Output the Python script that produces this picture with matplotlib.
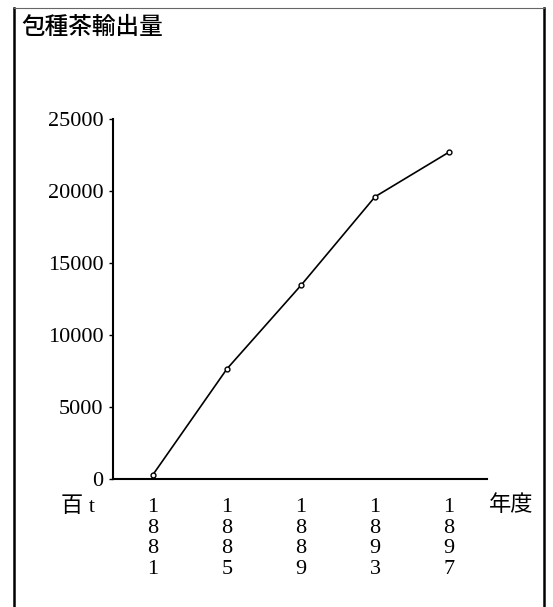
import matplotlib.pyplot as plt
from matplotlib.lines import Line2D

plt.rcParams['font.family'] = ['Liberation Serif', 'Noto Sans CJK JP']

# data (unit: 百t)
years = [1881, 1885, 1889, 1893, 1897]
export_vol = [300, 7650, 13450, 19600, 22700]
yticks = [0, 5000, 10000, 15000, 20000, 25000]
title = '包種茶輸出量'

fig = plt.figure(figsize=(5.53, 6.07), dpi=100)
ax = fig.add_axes([0.2043, 0.2109, 0.6764, 0.5931])

ax.plot(years, export_vol, color='black', lw=1.2, marker='o', ms=3.5,
        mfc='white', mec='black', mew=1)

ax.set_xlim(1878.84, 1899.05)
ax.set_ylim(0, 25000)
ax.set_yticks(yticks)
ax.set_yticklabels([str(v) for v in yticks], fontsize=16)
ax.set_xticks(years)
ax.set_xticklabels(['\n'.join(str(y)) for y in years], fontsize=16,
                   linespacing=1.1)

ax.spines['top'].set_visible(False)
ax.spines['right'].set_visible(False)
for s in ['left', 'bottom']:
    ax.spines[s].set_linewidth(1.5)
ax.tick_params(axis='y', length=3, width=1, pad=4, direction='out')
ax.tick_params(axis='x', length=0, pad=14)

# unit labels
fig.text(78 / 553, 1 - 507 / 607, '百 t', fontsize=16, ha='center', va='center')
fig.text(511 / 553, 1 - 506 / 607, '年度', fontsize=16, ha='center', va='center')

# title
fig.text(21 / 553, 1 - 28 / 607, title, fontsize=17, ha='left', va='center',
         fontweight='medium')

# frame round the figure
fig.add_artist(Line2D([14 / 553, 14 / 553], [0, 1 - 8 / 607], color='black', lw=1.8,
                      transform=fig.transFigure))
fig.add_artist(Line2D([544 / 553, 544 / 553], [0, 1 - 8 / 607], color='black', lw=1.8,
                      transform=fig.transFigure))
fig.add_artist(Line2D([14 / 553, 544 / 553], [1 - 8 / 607, 1 - 8 / 607], color='0.4',
                      lw=0.8, transform=fig.transFigure))

fig.savefig('out.png', dpi=100)
